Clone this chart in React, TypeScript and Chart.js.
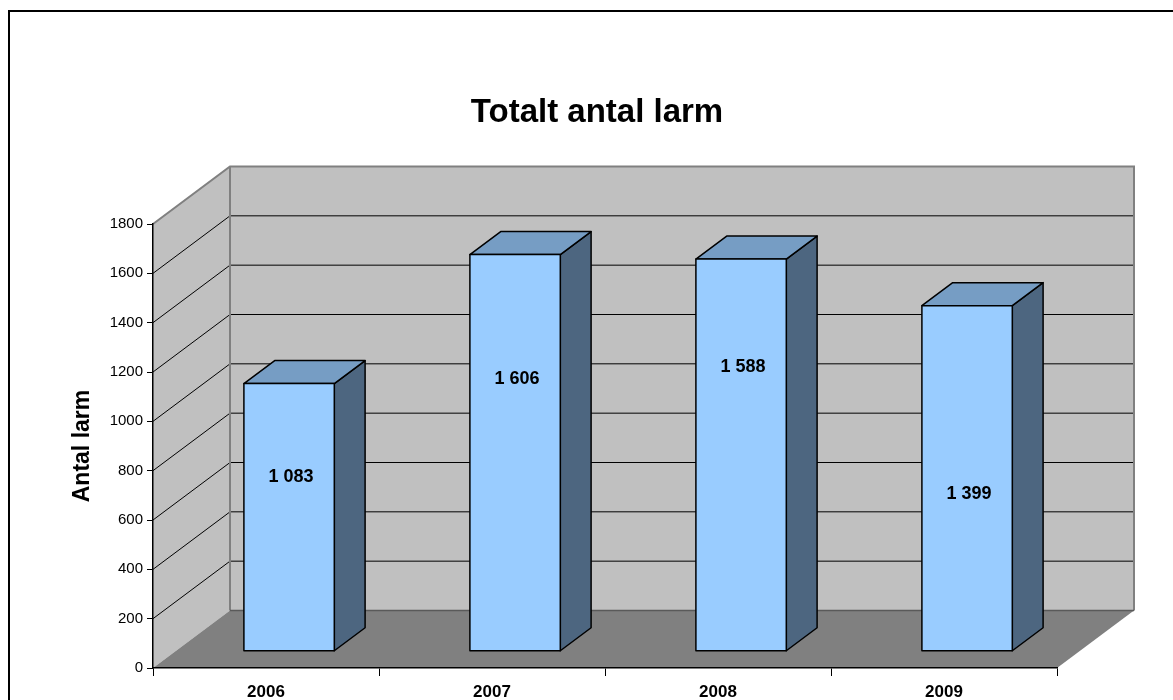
import React, { useEffect, useRef } from "react";
import { Chart, registerables } from "chart.js";

Chart.register(...registerables);

const categories = ["2006", "2007", "2008", "2009"];
const values = [1083, 1606, 1588, 1399];
// where each value label sits on its bar, in value units
const labelAt = [705, 1103, 1152, 636];
const yTicks = [0, 200, 400, 600, 800, 1000, 1200, 1400, 1600, 1800];
const titleText = "Totalt antal larm";
const yTitleText = "Antal larm";

const FONT = "'Liberation Sans', Arial, Helvetica, sans-serif";

const fmt = (v: number) => String(v).replace(/\B(?=(\d{3})+(?!\d))/g, " ");

const DX = 77;
const DY = -57.5;
const BAR_FRONT = 0.3;
const BAR_DEPTH = 0.4;
const BAR_WIDTH = 0.4;

const threeD = {
  id: "threeD",
  beforeDraw(chart: any) {
    const { ctx } = chart;
    const xs = chart.scales.x;
    const ys = chart.scales.y;
    const L = xs.left;
    const R = xs.right;
    const y0 = ys.getPixelForValue(0);
    const yTop = ys.getPixelForValue(yTicks[yTicks.length - 1]);
    ctx.save();
    // white background + frame
    ctx.fillStyle = "#ffffff";
    ctx.fillRect(0, 0, chart.width, chart.height);
    ctx.strokeStyle = "#000";
    ctx.lineWidth = 2;
    ctx.strokeRect(9, 11, chart.width + 50, chart.height + 50);

    // title
    ctx.fillStyle = "#000";
    ctx.font = `bold 33px ${FONT}`;
    ctx.textAlign = "center";
    ctx.textBaseline = "middle";
    ctx.fillText(titleText, 597, 113);

    // back wall
    ctx.fillStyle = "#C0C0C0";
    ctx.fillRect(L + DX, yTop + DY, R - L, y0 - yTop);
    // side wall
    ctx.beginPath();
    ctx.moveTo(L, y0);
    ctx.lineTo(L, yTop);
    ctx.lineTo(L + DX, yTop + DY);
    ctx.lineTo(L + DX, y0 + DY);
    ctx.closePath();
    ctx.fill();
    // floor
    ctx.fillStyle = "#808080";
    ctx.beginPath();
    ctx.moveTo(L, y0);
    ctx.lineTo(R, y0);
    ctx.lineTo(R + DX, y0 + DY);
    ctx.lineTo(L + DX, y0 + DY);
    ctx.closePath();
    ctx.fill();

    // gridlines
    ctx.strokeStyle = "#000";
    ctx.lineWidth = 1;
    yTicks.forEach((v) => {
      if (v === 0 || v === yTicks[yTicks.length - 1]) return;
      const y = ys.getPixelForValue(v);
      ctx.beginPath();
      ctx.moveTo(L, y);
      ctx.lineTo(L + DX, y + DY);
      ctx.lineTo(R + DX, y + DY);
      ctx.stroke();
    });

    // wall edges
    ctx.strokeStyle = "#808080";
    ctx.lineWidth = 2;
    ctx.beginPath();
    ctx.moveTo(L, yTop);
    ctx.lineTo(L + DX, yTop + DY);
    ctx.lineTo(R + DX, yTop + DY);
    ctx.lineTo(R + DX, y0 + DY);
    ctx.stroke();
    ctx.beginPath();
    ctx.moveTo(L + DX, yTop + DY);
    ctx.lineTo(L + DX, y0 + DY);
    ctx.stroke();
    ctx.strokeStyle = "#5a5a5a";
    ctx.lineWidth = 1.5;
    ctx.beginPath();
    ctx.moveTo(L + DX, y0 + DY);
    ctx.lineTo(R + DX, y0 + DY);
    ctx.stroke();
    ctx.restore();
  },
  afterDatasetsDraw(chart: any) {
    const { ctx } = chart;
    const xs = chart.scales.x;
    const ys = chart.scales.y;
    const catW = (xs.right - xs.left) / categories.length;
    const bw = catW * BAR_WIDTH;
    const ox = BAR_FRONT * DX;
    const oy = BAR_FRONT * DY;
    const dx = BAR_DEPTH * DX;
    const dy = BAR_DEPTH * DY;
    ctx.save();
    ctx.lineJoin = "round";
    ctx.lineWidth = 1.5;
    ctx.strokeStyle = "#000";
    values.forEach((v, i) => {
      const cx = xs.getPixelForValue(i) + ox;
      const l = cx - bw / 2;
      const r = cx + bw / 2;
      const b = ys.getPixelForValue(0) + oy;
      const t = ys.getPixelForValue(v) + oy;
      // side
      ctx.fillStyle = "#4D6680";
      ctx.beginPath();
      ctx.moveTo(r, t);
      ctx.lineTo(r + dx, t + dy);
      ctx.lineTo(r + dx, b + dy);
      ctx.lineTo(r, b);
      ctx.closePath();
      ctx.fill();
      ctx.stroke();
      // top
      ctx.fillStyle = "#769DC4";
      ctx.beginPath();
      ctx.moveTo(l, t);
      ctx.lineTo(r, t);
      ctx.lineTo(r + dx, t + dy);
      ctx.lineTo(l + dx, t + dy);
      ctx.closePath();
      ctx.fill();
      ctx.stroke();
      // front
      ctx.fillStyle = "#99CCFF";
      ctx.beginPath();
      ctx.rect(l, t, r - l, b - t);
      ctx.fill();
      ctx.stroke();
      // label
      ctx.fillStyle = "#000";
      ctx.font = `bold 18px ${FONT}`;
      ctx.textAlign = "center";
      ctx.textBaseline = "middle";
      ctx.fillText(fmt(v), cx + 2, ys.getPixelForValue(labelAt[i]) + oy);
    });
    ctx.restore();
  },
};

export default function App() {
  const ref = useRef<HTMLCanvasElement | null>(null);
  useEffect(() => {
    if (!ref.current) return;
    Chart.defaults.font.family = FONT;
    const chart = new Chart(ref.current, {
      type: "bar",
      data: {
        labels: categories,
        datasets: [
          {
            label: yTitleText,
            data: values,
            backgroundColor: "rgba(0,0,0,0)",
            borderWidth: 0,
          },
        ],
      },
      options: {
        animation: false,
        responsive: false,
        maintainAspectRatio: false,
        layout: { padding: { left: 0, right: 116, top: 224, bottom: 0 } },
        plugins: {
          legend: { display: false },
          tooltip: { enabled: false },
          title: { display: false },
        },
        scales: {
          x: {
            offset: true,
            grid: {
              offset: true,
              drawOnChartArea: false,
              drawTicks: true,
              tickLength: 8,
              tickColor: "#000",
              tickWidth: 1,
            },
            border: { display: true, color: "#000", width: 1.5 },
            ticks: {
              color: "#000",
              font: { family: FONT, size: 17, weight: "bold" },
              padding: 6,
            },
            afterFit: (scale: any) => {
              scale.height = 32;
            },
          },
          y: {
            min: 0,
            max: 1800,
            afterBuildTicks: (scale: any) => {
              scale.ticks = yTicks.map((v) => ({ value: v }));
            },
            ticks: {
              color: "#000",
              font: { family: FONT, size: 15 },
              padding: 4,
              callback: (v: any) => String(v),
            },
            grid: {
              drawOnChartArea: false,
              drawTicks: true,
              tickLength: 6,
              tickColor: "#000",
              tickWidth: 1,
            },
            border: { display: true, color: "#000", width: 1.5 },
            title: {
              display: true,
              text: yTitleText,
              color: "#000",
              font: { family: FONT, size: 23, weight: "bold" },
              padding: { top: 69, bottom: 0 },
            },
            afterFit: (scale: any) => {
              scale.width = 153;
            },
          },
        },
      },
      plugins: [threeD],
    });
    return () => chart.destroy();
  }, []);
  return (
    <div
      style={{
        position: "fixed",
        left: 0,
        top: 0,
        width: 1173,
        height: 700,
        overflow: "hidden",
        background: "#fff",
      }}
    >
      <canvas ref={ref} width={1173} height={700} style={{ display: "block" }} />
    </div>
  );
}
